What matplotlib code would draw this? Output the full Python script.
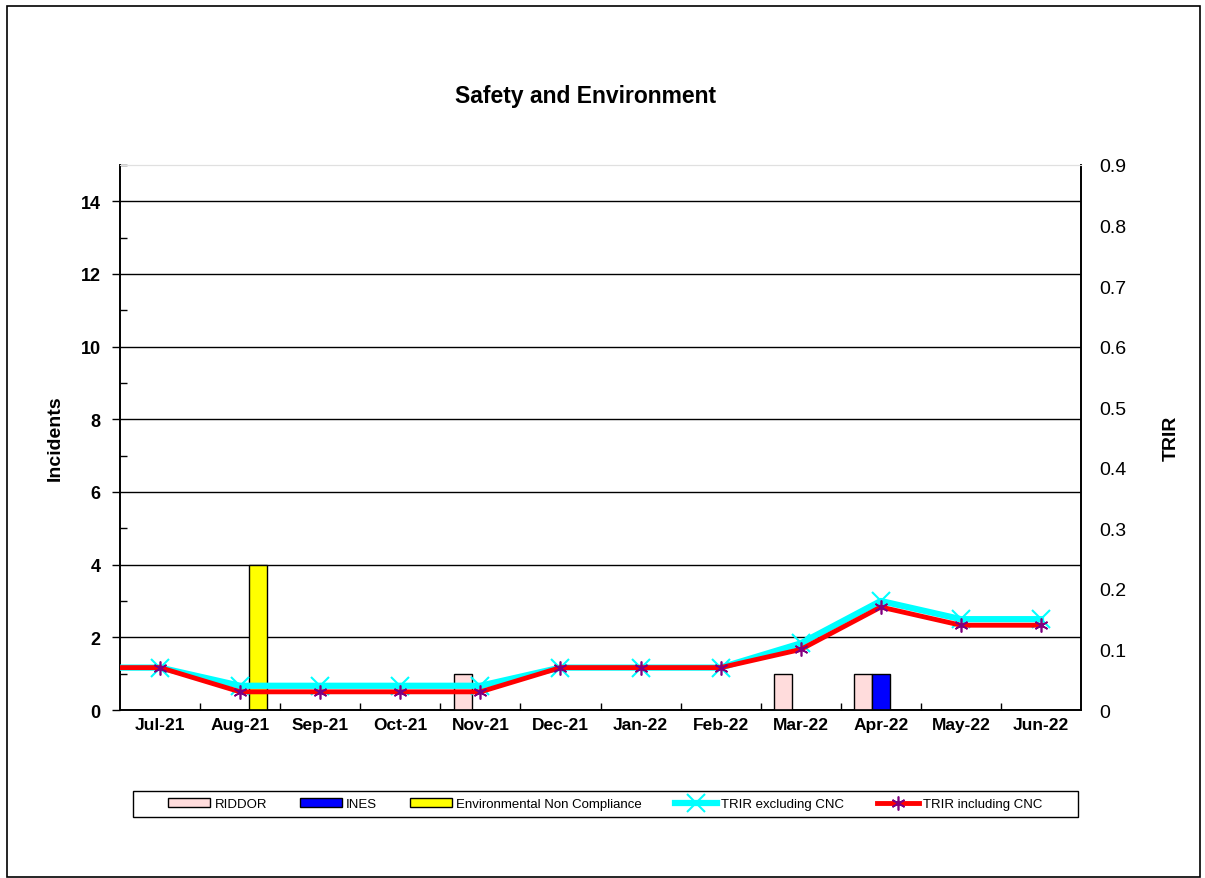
import numpy as np
import matplotlib.pyplot as plt
from matplotlib.patches import Rectangle
from matplotlib.ticker import MultipleLocator, FixedLocator

plt.rcParams['font.family'] = ['Liberation Sans', 'DejaVu Sans']

# Data
months = ["Jul-21", "Aug-21", "Sep-21", "Oct-21", "Nov-21", "Dec-21",
          "Jan-22", "Feb-22", "Mar-22", "Apr-22", "May-22", "Jun-22"]
riddor = [0, 0, 0, 0, 1, 0, 0, 0, 1, 1, 0, 0]
ines = [0, 0, 0, 0, 0, 0, 0, 0, 0, 1, 0, 0]
env_nc = [0, 4, 0, 0, 0, 0, 0, 0, 0, 0, 0, 0]
trir_excl = [0.07, 0.04, 0.04, 0.04, 0.04, 0.07, 0.07, 0.07, 0.11, 0.18, 0.15, 0.15]
trir_incl = [0.07, 0.03, 0.03, 0.03, 0.03, 0.07, 0.07, 0.07, 0.10, 0.17, 0.14, 0.14]
# previous month (Jun-21), runs off the left edge of the plot
trir_excl_prev = 0.07
trir_incl_prev = 0.07

x = np.arange(len(months))
w = 0.22

fig = plt.figure(figsize=(12.05, 8.79), dpi=100)
# outer chart border
fig.patches.append(Rectangle((7 / 1205, 1 / 879), 1193 / 1205, 871 / 879,
                             transform=fig.transFigure, fill=False,
                             edgecolor='black', linewidth=1.2))
# legend box
fig.patches.append(Rectangle((133 / 1205, 1 - 818 / 879), 945 / 1205, 26 / 879,
                             transform=fig.transFigure, fill=False,
                             edgecolor='black', linewidth=1))

ax = fig.add_axes([120 / 1205, 1 - 711 / 879, 961 / 1205, 545 / 879])
ax2 = ax.twinx()

# bars on the left axis
ax.bar(x - w, riddor, w, color='#ffdcdc', edgecolor='black', linewidth=1, label='RIDDOR', zorder=3)
ax.bar(x, ines, w, color='#0000ff', edgecolor='black', linewidth=1, label='INES', zorder=3)
ax.bar(x + w, env_nc, w, color='#ffff00', edgecolor='black', linewidth=1,
       label='Environmental Non Compliance', zorder=3)

ax.set_ylim(0, 15)
ax.set_xlim(-0.5, len(months) - 0.5)
ax.set_yticks([0, 2, 4, 6, 8, 10, 12, 14])
ax.yaxis.set_minor_locator(MultipleLocator(1))
ax.grid(axis='y', which='major', color='black', linewidth=1, zorder=0)
ax.set_axisbelow(True)
ax.tick_params(axis='y', which='major', direction='out', length=6, width=1, labelsize=13, pad=8)
ax.tick_params(axis='y', which='minor', direction='in', length=5, width=1)
ax.set_xticks(x)
ax.set_xticklabels(months, fontsize=12.5, fontweight='bold')
ax.xaxis.set_minor_locator(FixedLocator(x[:-1] + 0.5))
ax.tick_params(axis='x', which='major', length=0, pad=5)
ax.tick_params(axis='x', which='minor', direction='in', length=5, width=1)
for lbl in ax.get_yticklabels():
    lbl.set_fontweight('bold')
ax.set_ylabel('Incidents', fontsize=14, fontweight='bold', labelpad=12)

# TRIR lines on the right axis
xl = np.concatenate([[x[0] - 1], x])
ax2.plot(xl, [trir_excl_prev] + trir_excl, color='#00ffff', linewidth=4.5,
         marker='x', markersize=13, markeredgewidth=1.5, markeredgecolor='#00ffff',
         label='TRIR excluding CNC', zorder=4)
ax2.plot(xl, [trir_incl_prev] + trir_incl, color='#ff0000', linewidth=3.5,
         marker=(6, 2, 0), markersize=10, markeredgewidth=1.2, markeredgecolor='#800080',
         label='TRIR including CNC', zorder=5)
ax2.set_ylim(0, 0.9)
ax2.set_yticks(np.arange(0, 0.91, 0.1))
ax2.set_yticklabels(['0'] + ['%.1f' % v for v in np.arange(0.1, 0.91, 0.1)])
ax2.tick_params(axis='y', length=0, pad=13, labelsize=14)
ax2.set_ylabel('TRIR', fontsize=14, fontweight='bold', labelpad=26)

for a in (ax, ax2):
    a.spines['top'].set_color('#e0e0e0')
    a.spines['left'].set_linewidth(1.2)
    a.spines['right'].set_linewidth(1.2)
    a.spines['bottom'].set_linewidth(1.2)

fig.text(0.486, 1 - 96 / 879, 'Safety and Environment', ha='center', va='center',
         fontsize=16.5, fontweight='bold')

h1, l1 = ax.get_legend_handles_labels()
h2, l2 = ax2.get_legend_handles_labels()
fig.legend(h1 + h2, l1 + l2, loc='center',
           bbox_to_anchor=(605.5 / 1205, 1 - 805 / 879),
           ncol=5, fontsize=9.5, frameon=False,
           handlelength=3.2, handletextpad=0.3,
           columnspacing=2.5, borderpad=0.45, borderaxespad=0)

fig.savefig('out.png', dpi=100)
